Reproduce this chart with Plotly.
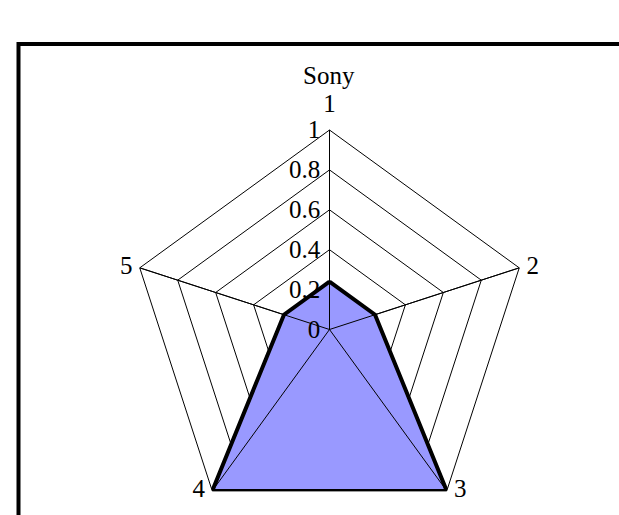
import plotly.graph_objects as go

# ---- data ----
categories = ["1", "2", "3", "4", "5"]
values = [0.24, 0.24, 1.0, 1.0, 0.24]
radial_ticks = [0, 0.2, 0.4, 0.6, 0.8, 1]
radial_labels = ["0", "0.2", "0.4", "0.6", "0.8", "1"]
title_text = "Sony"

# ---- layout geometry (pixels) ----
W, H = 619, 529
cx, cy, R = 329.5, 329.5, 199.5
FONT = "Liberation Serif, Times New Roman, serif"
FS = 25

fig = go.Figure()

# data polygon
fig.add_trace(go.Scatterpolar(
    r=values + [values[0]],
    theta=categories + [categories[0]],
    mode="lines",
    fill="toself",
    fillcolor="#9999FF",
    line=dict(color="black", width=4),
    hoverinfo="skip",
    showlegend=False,
))

# spokes drawn above the fill (axis lines from 0 to range max for each category)
r_sp, t_sp = [], []
for c in categories:
    r_sp += [radial_ticks[0], radial_ticks[-1], None]
    t_sp += [c, c, None]
fig.add_trace(go.Scatterpolar(
    r=r_sp, theta=t_sp, mode="lines",
    line=dict(color="black", width=1),
    hoverinfo="skip", showlegend=False, connectgaps=False,
))

# category labels at the outer vertices (invisible markers only set the text offset)
fig.add_trace(go.Scatterpolar(
    r=[radial_ticks[-1]] * len(categories),
    theta=categories,
    mode="markers+text",
    marker=dict(size=[18, 10, 10, 10, 10], color="rgba(0,0,0,0)", line=dict(width=0)),
    text=categories,
    textposition=["top center", "middle right", "middle right", "middle left", "middle left"],
    textfont=dict(family=FONT, size=FS, color="black"),
    cliponaxis=False,
    hoverinfo="skip", showlegend=False,
))

fig.update_layout(
    width=W, height=H,
    margin=dict(l=0, r=0, t=0, b=0, pad=0),
    paper_bgcolor="white",
    plot_bgcolor="white",
    font=dict(family=FONT, size=FS, color="black"),
    showlegend=False,
    polar=dict(
        domain=dict(x=[(cx - R) / W, (cx + R) / W], y=[(H - cy - R) / H, (H - cy + R) / H]),
        gridshape="linear",
        bgcolor="white",
        angularaxis=dict(
            type="category",
            categoryorder="array",
            categoryarray=categories,
            direction="clockwise",
            rotation=90,
            showline=True, linecolor="black", linewidth=1,
            showgrid=True, gridcolor="black", gridwidth=1,
            ticks="",
            showticklabels=False,
        ),
        radialaxis=dict(
            range=[radial_ticks[0], radial_ticks[-1]],
            tickvals=radial_ticks,
            ticktext=radial_labels,
            angle=90,
            tickangle=90,
            side="counterclockwise",
            showline=True, linecolor="black", linewidth=1,
            showgrid=True, gridcolor="black", gridwidth=1,
            ticks="",
            tickfont=dict(family=FONT, size=FS, color="black"),
        ),
    ),
    annotations=[dict(
        text=title_text, x=cx / W, y=(H - 75) / H, xref="paper", yref="paper",
        xanchor="center", yanchor="middle", showarrow=False,
        font=dict(family=FONT, size=FS, color="black"),
    )],
    shapes=[dict(
        type="rect", xref="paper", yref="paper",
        x0=18.5 / W, x1=1.1, y0=-0.1, y1=(H - 44) / H,
        line=dict(color="black", width=4), fillcolor="rgba(0,0,0,0)", layer="above",
    )],
)

fig.write_html(
    "out.html",
    config={"displayModeBar": False},
    post_script="document.body.style.margin='0';document.body.style.overflow='hidden';document.documentElement.style.overflow='hidden';",
)
